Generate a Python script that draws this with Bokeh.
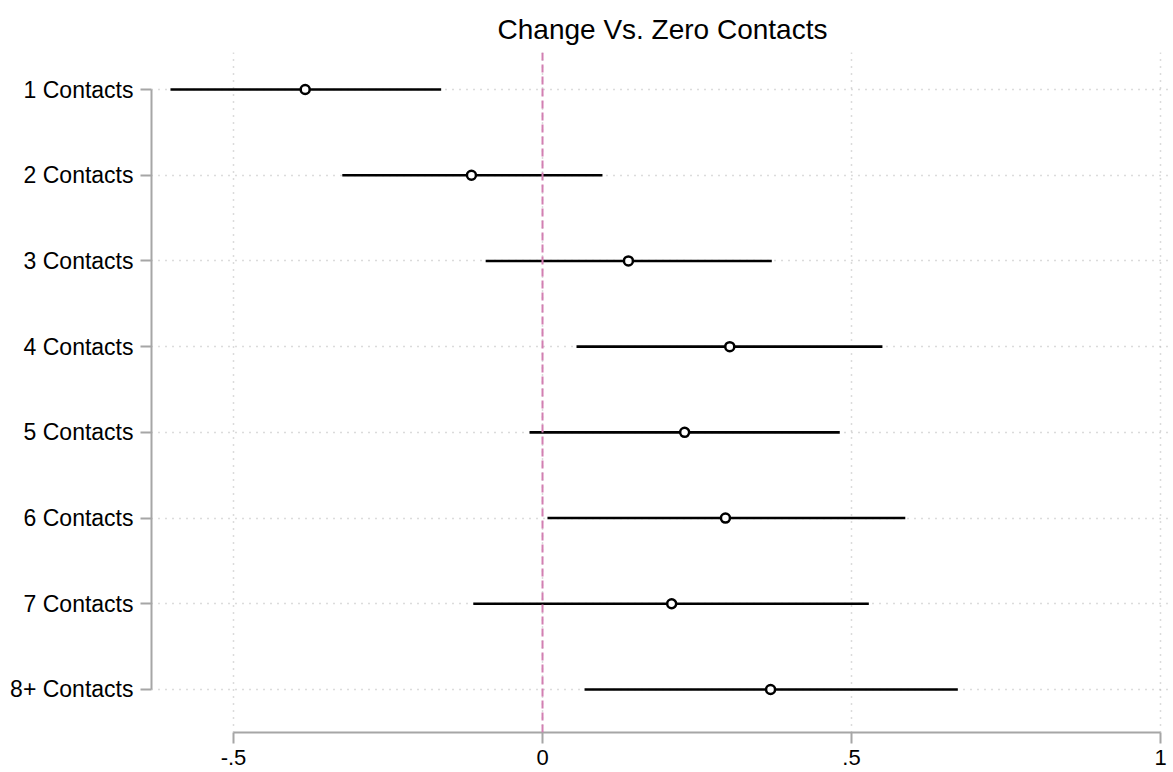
from bokeh.plotting import figure
from bokeh.models import Range1d, FixedTicker, Span, ColumnDataSource
from bokeh.embed import file_html
from bokeh.resources import INLINE

# ---- data ----
categories = ["1 Contacts", "2 Contacts", "3 Contacts", "4 Contacts",
              "5 Contacts", "6 Contacts", "7 Contacts", "8+ Contacts"]
estimates = [-0.384, -0.115, 0.139, 0.303, 0.230, 0.296, 0.209, 0.369]
ci_low = [-0.602, -0.324, -0.092, 0.055, -0.021, 0.008, -0.112, 0.068]
ci_high = [-0.164, 0.097, 0.371, 0.550, 0.481, 0.587, 0.528, 0.672]
x_ticks = [-0.5, 0, 0.5, 1]
x_tick_labels = ["-.5", "0", ".5", "1"]
title_text = "Change Vs. Zero Contacts"

ypos = list(range(1, len(categories) + 1))
src = ColumnDataSource(dict(y=ypos, est=estimates, lo=ci_low, hi=ci_high))

FONT = "Liberation Sans"
AXIS_GRAY = "#a6a6a6"

p = figure(width=1173, height=772, output_backend="svg", toolbar_location=None,
           x_range=Range1d(-0.6327, 1.0210), y_range=Range1d(8.5017, 0.5683),
           min_border_left=151, min_border_right=0, min_border_top=52,
           min_border_bottom=40)
p.outline_line_color = None
p.background_fill_color = "white"

p.title.text = title_text
p.title.align = "center"
p.title.text_font = FONT
p.title.text_font_size = "28px"
p.title.text_font_style = "normal"
p.title.text_color = "black"
p.title.standoff = 16

# grids
p.xgrid.ticker = FixedTicker(ticks=x_ticks)
p.ygrid.ticker = FixedTicker(ticks=ypos)
for g in (p.xgrid, p.ygrid):
    g.grid_line_color = "#b8b8b8"
    g.grid_line_dash = "1 6"
    g.grid_line_width = 1.5

# zero line
p.add_layout(Span(location=0, dimension="height", line_color="#d27fb2",
                  line_dash="8 4", line_width=2))

# CI segments and points
p.segment(x0="lo", x1="hi", y0="y", y1="y", source=src,
          line_color="black", line_width=2.6)
p.scatter(x="est", y="y", source=src, marker="circle", size=9,
          fill_color="white", line_color="black", line_width=2.5)

# axes
xa = p.xaxis[0]
xa.ticker = FixedTicker(ticks=x_ticks)
xa.major_label_overrides = {t: l for t, l in zip(x_ticks, x_tick_labels)}
xa.bounds = (x_ticks[0], x_ticks[-1])
ya = p.yaxis[0]
ya.ticker = FixedTicker(ticks=ypos)
ya.major_label_overrides = {y: c for y, c in zip(ypos, categories)}
ya.bounds = (ypos[0], ypos[-1])

for ax in (xa, ya):
    ax.axis_line_color = AXIS_GRAY
    ax.axis_line_width = 2
    ax.major_tick_line_color = AXIS_GRAY
    ax.major_tick_line_width = 2
    ax.major_tick_out = 11
    ax.major_tick_in = 0
    ax.minor_tick_line_color = None
    ax.major_label_text_font = FONT
    ax.major_label_text_color = "black"
xa.major_label_text_font_size = "22px"
xa.major_label_standoff = 6
ya.major_label_text_font_size = "23px"
ya.major_label_standoff = 7

open("out.html", "w").write(file_html(p, INLINE))
